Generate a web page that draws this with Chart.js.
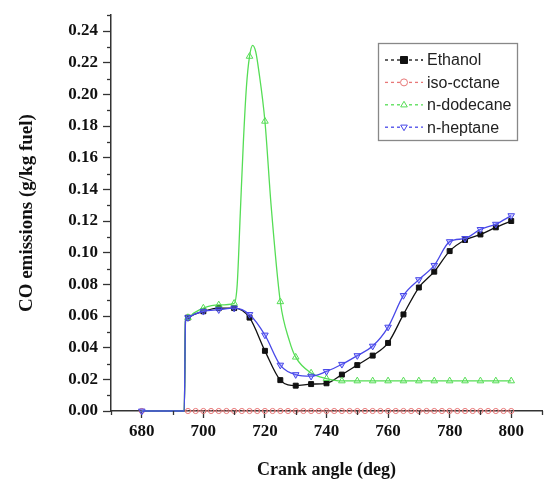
<!DOCTYPE html>
<html>
<head>
<meta charset="utf-8">
<script src="https://cdn.jsdelivr.net/npm/chart.js@4.4.1/dist/chart.umd.min.js"></script>
<style>
  html, body { margin: 0; padding: 0; background: #fff; }
  #grafico { display: block; }
</style>
</head>
<body>
<canvas id="grafico" width="547" height="486"></canvas>
<script>
// valores (CO em g/kg fuel vs ângulo da cambota)
const seriesNames = ['Ethanol', 'iso-cctane', 'n-dodecane', 'n-heptane'];

const ethanolAngles = [680, 685, 690, 693.8, 694.2, 695, 697, 700, 705, 710, 715, 720, 725, 730, 735, 740, 745, 750, 755, 760, 765, 770, 775, 780, 785, 790, 795, 800];
const ethanolCO = [0, 0, 0, 0, 0.057, 0.059, 0.061, 0.063, 0.065, 0.065, 0.059, 0.038, 0.0195, 0.016, 0.017, 0.0175, 0.023, 0.029, 0.035, 0.043, 0.061, 0.078, 0.088, 0.101, 0.108, 0.1115, 0.116, 0.120];

const isoAngles = [680, 694, 695, 697.5, 700, 702.5, 705, 707.5, 710, 712.5, 715, 717.5, 720, 722.5, 725, 727.5, 730, 732.5, 735, 737.5, 740, 742.5, 745, 747.5, 750, 752.5, 755, 757.5, 760, 762.5, 765, 767.5, 770, 772.5, 775, 777.5, 780, 782.5, 785, 787.5, 790, 792.5, 795, 797.5, 800];
const isoCO = [0, 0, 0, 0, 0, 0, 0, 0, 0, 0, 0, 0, 0, 0, 0, 0, 0, 0, 0, 0, 0, 0, 0, 0, 0, 0, 0, 0, 0, 0, 0, 0, 0, 0, 0, 0, 0, 0, 0, 0, 0, 0, 0, 0, 0];

const dodecaneAngles = [680, 685, 690, 693.8, 694.2, 695, 697, 700, 705, 710, 711, 712, 713, 714, 715, 716, 717, 718, 720, 722, 725, 728, 730, 735, 740, 745, 750, 755, 760, 765, 770, 775, 780, 785, 790, 795, 800];
const dodecaneCO = [0, 0, 0, 0, 0.057, 0.059, 0.062, 0.065, 0.067, 0.068, 0.08, 0.125, 0.17, 0.205, 0.224, 0.231, 0.227, 0.215, 0.183, 0.13, 0.069, 0.044, 0.034, 0.024, 0.0205, 0.019, 0.019, 0.019, 0.019, 0.019, 0.019, 0.019, 0.019, 0.019, 0.019, 0.019, 0.019];

const heptaneAngles = [680, 685, 690, 693.8, 694.2, 695, 697, 700, 705, 710, 715, 720, 725, 730, 735, 740, 745, 750, 755, 760, 765, 770, 775, 780, 785, 790, 795, 800];
const heptaneCO = [0, 0, 0, 0, 0.057, 0.059, 0.061, 0.063, 0.064, 0.065, 0.061, 0.048, 0.029, 0.023, 0.022, 0.025, 0.0295, 0.035, 0.041, 0.053, 0.073, 0.083, 0.092, 0.107, 0.109, 0.1147, 0.118, 0.1234];

const xTicks = [680, 700, 720, 740, 760, 780, 800];
const xMinorTicks = [670, 690, 710, 730, 750, 770, 790, 810];
const yTicks = [0, 0.02, 0.04, 0.06, 0.08, 0.10, 0.12, 0.14, 0.16, 0.18, 0.20, 0.22, 0.24];
const yMinorTicks = [0.01, 0.03, 0.05, 0.07, 0.09, 0.11, 0.13, 0.15, 0.17, 0.19, 0.21, 0.23, 0.25];

const cores = ['#111111', '#e87878', '#55dd55', '#4848e8'];
const fundos = ['#111111', 'rgba(255,255,255,0)', 'rgba(255,255,255,0)', 'rgba(120,120,255,0.35)'];
const estilos = ['rect', 'circle', 'triangle', 'triangle'];
const rotacoes = [0, 0, 0, 180];
const ordem = [2, 3, 1, 0]; // n-heptane por cima

function pontos(xs, ys) {
  return xs.map((x, i) => ({ x: x, y: ys[i] }));
}

function makeDataset(i, data, r, passo) {
  return {
    label: seriesNames[i],
    data: data,
    order: ordem[i],
    borderColor: cores[i],
    backgroundColor: fundos[i],
    pointBorderColor: cores[i],
    pointBackgroundColor: fundos[i],
    pointStyle: estilos[i],
    pointRotation: rotacoes[i],
    // marcadores só a cada 5 graus (2.5 no iso-cctane)
    pointRadius: ctx => {
      const x = ctx.raw ? ctx.raw.x : 0;
      if (x === 680) return i === 3 || i === 1 ? r : 0;
      if (x < 695) return 0;
      return (x % passo === 0) ? r : 0;
    },
    pointBorderWidth: 1,
    borderWidth: 1.3,
    cubicInterpolationMode: 'monotone',
    fill: false,
    clip: false
  };
}

const datasets = [
  makeDataset(0, pontos(ethanolAngles, ethanolCO), 3.5, 5),
  makeDataset(1, pontos(isoAngles, isoCO), 2.6, 2.5),
  makeDataset(2, pontos(dodecaneAngles, dodecaneCO), 3.8, 5),
  makeDataset(3, pontos(heptaneAngles, heptaneCO), 3.8, 5)
];
datasets[1].borderDash = [2, 2];
datasets[1].borderWidth = 1.2;

// ticks menores nos eixos
const minorTicks = {
  id: 'minorTicks',
  afterDraw(chart) {
    const c = chart.ctx;
    const xs = chart.scales.x;
    const ys = chart.scales.y;
    const area = chart.chartArea;
    c.save();
    c.strokeStyle = '#333';
    c.lineWidth = 1.3;
    yMinorTicks.forEach(v => {
      const py = Math.round(ys.getPixelForValue(v)) + 0.5;
      c.beginPath();
      c.moveTo(area.left - 4, py);
      c.lineTo(area.left, py);
      c.stroke();
    });
    xMinorTicks.forEach(v => {
      const px = Math.round(xs.getPixelForValue(v)) + 0.5;
      c.beginPath();
      c.moveTo(px, area.bottom);
      c.lineTo(px, area.bottom + 4);
      c.stroke();
    });
    c.restore();
  }
};

function desenharMarcador(c, estilo, rot, x, y, r) {
  c.beginPath();
  if (estilo === 'rect') {
    c.rect(x - r, y - r, 2 * r, 2 * r);
  } else if (estilo === 'circle') {
    c.arc(x, y, r, 0, Math.PI * 2);
  } else {
    const s = rot === 180 ? -1 : 1;
    c.moveTo(x, y - s * r);
    c.lineTo(x + r * 0.95, y + s * r * 0.6);
    c.lineTo(x - r * 0.95, y + s * r * 0.6);
    c.closePath();
  }
  c.fill();
  c.stroke();
}

// legenda desenhada à mão (linha tracejada + marcador)
const legendaBox = {
  id: 'legendaBox',
  afterDraw(chart) {
    const c = chart.ctx;
    const box = { left: 378.5, top: 43.5, right: 517.5, bottom: 140.5 };
    c.save();
    c.fillStyle = '#fff';
    c.fillRect(box.left, box.top, box.right - box.left, box.bottom - box.top);
    c.strokeStyle = '#888';
    c.lineWidth = 1.3;
    c.strokeRect(box.left, box.top, box.right - box.left, box.bottom - box.top);

    seriesNames.forEach((nome, i) => {
      const y = 60 + i * 22.4;
      c.strokeStyle = cores[i];
      c.lineWidth = 1.3;
      c.setLineDash([3, 3]);
      c.beginPath();
      c.moveTo(385, y);
      c.lineTo(423, y);
      c.stroke();
      c.setLineDash([]);
      c.fillStyle = i === 0 ? cores[0] : '#fff';
      c.lineWidth = 1;
      desenharMarcador(c, estilos[i], rotacoes[i], 404, y, 3.5);
      c.fillStyle = '#222';
      c.font = '16px "Liberation Sans", Arial, sans-serif';
      c.textBaseline = 'middle';
      c.textAlign = 'left';
      c.fillText(nome, 427, y + 1);
    });
    c.restore();
  }
};

const fonteTicks = { family: '"Liberation Serif", "Times New Roman", serif', size: 17, weight: 'bold' };

new Chart(document.getElementById('grafico').getContext('2d'), {
  type: 'line',
  data: { datasets: datasets },
  options: {
    responsive: false,
    animation: false,
    devicePixelRatio: 1,
    layout: { padding: { top: 11, right: 2, left: 0, bottom: 0 } },
    plugins: {
      legend: { display: false },
      tooltip: { enabled: false }
    },
    scales: {
      x: {
        type: 'linear',
        min: 670,
        max: 810,
        afterBuildTicks: s => { s.ticks = xTicks.map(v => ({ value: v })); },
        afterFit: s => { s.height = 75; },
        ticks: { font: fonteTicks, color: '#111', padding: 3, maxRotation: 0, autoSkip: false },
        grid: { drawOnChartArea: false, tickLength: 7, tickColor: '#333', tickWidth: 1.3 },
        border: { color: '#333', width: 1.5 },
        title: {
          display: true,
          text: 'Crank angle (deg)',
          color: '#111',
          font: { family: '"Liberation Serif", "Times New Roman", serif', size: 18, weight: 'bold' },
          padding: { top: 4, bottom: 5 }
        }
      },
      y: {
        min: 0,
        max: 0.25,
        afterBuildTicks: s => { s.ticks = yTicks.map(v => ({ value: v })); },
        afterFit: s => { s.width = 111; },
        ticks: { font: fonteTicks, color: '#111', padding: 5, callback: v => v.toFixed(2) },
        grid: { drawOnChartArea: false, tickLength: 8, tickColor: '#333', tickWidth: 1.3 },
        border: { color: '#333', width: 1.5 },
        title: {
          display: true,
          text: 'CO emissions (g/kg fuel)',
          color: '#111',
          font: { family: '"Liberation Serif", "Times New Roman", serif', size: 19, weight: 'bold' },
          padding: { top: 16, bottom: 0 }
        }
      }
    }
  },
  plugins: [minorTicks, legendaBox]
});
</script>
</body>
</html>
